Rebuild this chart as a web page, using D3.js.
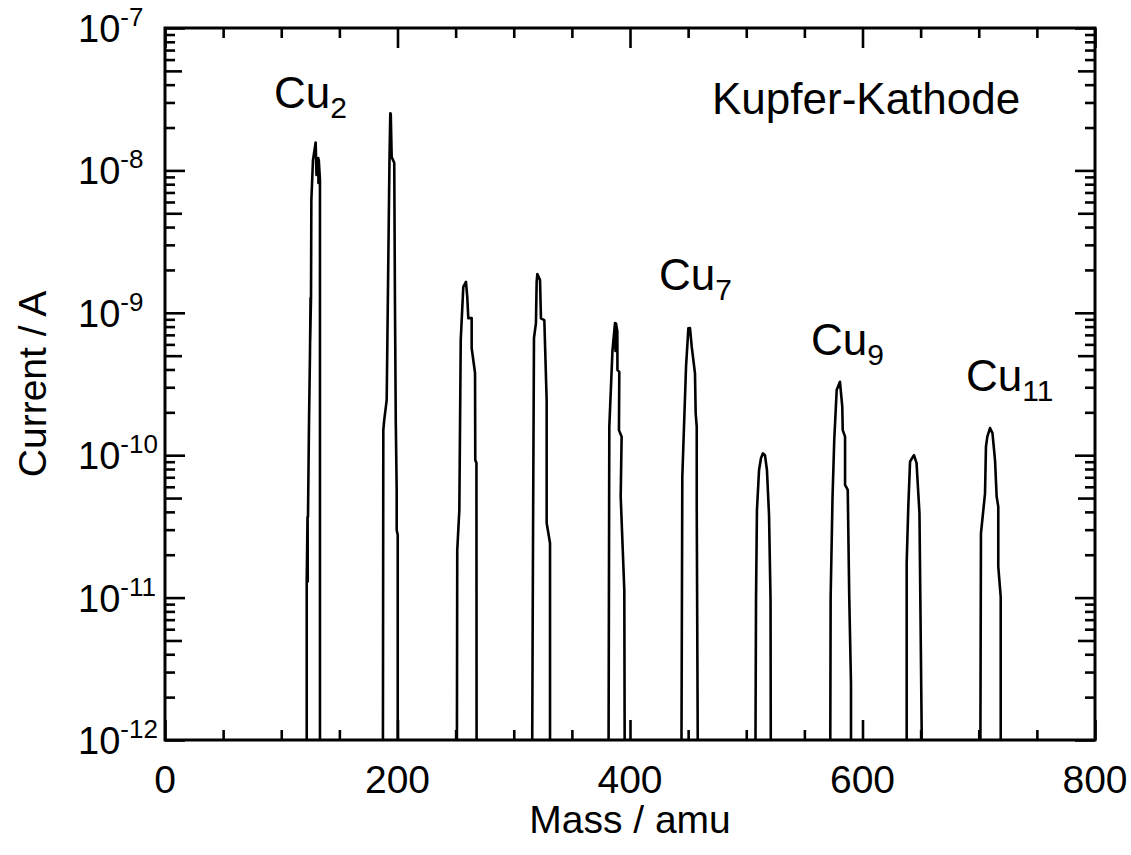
<!DOCTYPE html>
<html>
<head>
<meta charset="utf-8">
<script src="https://cdn.jsdelivr.net/npm/d3@7/dist/d3.min.js"></script>
<style>
  body { margin: 0; background: #fff; }
  text { font-family: Arial, "Liberation Sans", sans-serif; fill: #000; }
</style>
</head>
<body>
<script>
var width = 1131
var height = 855
var margin = { top: 28, right: 36, bottom: 115, left: 165 }

// mass spectrum (1e-13 = below the axis)
var mass = [
  121.9, 121.9, 122.6, 122.8, 122.7, 123.0, 123.9, 124.7, 125.2, 124.9, 125.6, 125.9, 127.3, 129.6, 130.3, 131.9, 132.0, 132.3, 133.3, 133.3,
  187.3, 187.8, 188.6, 190.7, 193.1, 193.8, 194.0, 194.2, 195.0, 197.2, 197.8, 198.5, 199.3, 199.3, 200.2, 200.2,
  250.9, 251.4, 253.2, 254.4, 256.6, 258.9, 260.0, 260.9, 263.8, 263.8, 266.7, 266.9, 267.9, 268.1,
  315.4, 316.6, 317.4, 319.1, 319.7, 320.3, 322.6, 323.4, 326.3, 328.3, 328.3, 331.2, 331.2,
  381.3, 382.2, 384.9, 387.1, 387.5, 388.0, 389.1, 389.2, 390.8, 390.5, 392.8, 392.0, 395.1, 395.7,
  443.9, 445.0, 448.2, 450.2, 451.6, 453.1, 455.9, 456.5, 457.4, 457.4, 458.8,
  507.5, 508.4, 509.2, 511.0, 512.7, 514.4, 516.1, 517.8, 519.6, 520.9, 521.3,
  572.0, 572.6, 574.2, 575.7, 577.8, 580.6, 582.6, 583.0, 585.0, 585.0, 587.3, 588.6, 590.1, 590.1,
  638.0, 638.0, 639.4, 640.9, 643.7, 644.3, 646.5, 649.0, 650.9, 650.9,
  701.1, 701.9, 705.4, 706.2, 707.4, 709.7, 711.8, 714.0, 715.4, 716.8, 716.8, 718.9, 718.9
]
var current = [
  1e-13, 1.27e-11, 3.68e-11, 1.3e-11, 3.68e-11, 3.68e-11, 1.77e-10, 5.06e-10, 1.27e-9, 6.44e-10, 1.27e-9, 6.19e-9, 1.18e-8, 1.57e-8, 9.3e-9, 1.22e-8, 8.17e-9, 1.18e-8, 8.57e-9, 1e-13,
  1e-13, 1.5e-10, 1.77e-10, 2.44e-10, 1.18e-8, 2.52e-8, 1.39e-8, 2.5e-8, 1.24e-8, 1.13e-8, 1.23e-9, 1.77e-10, 5.7e-11, 2.98e-11, 2.75e-11, 1e-13,
  1e-13, 2.16e-11, 4.12e-11, 6.44e-10, 1.52e-9, 1.65e-9, 1.3e-9, 9.18e-10, 9.18e-10, 5.66e-10, 3.78e-10, 9.25e-11, 8.81e-11, 1e-13,
  1e-13, 2.84e-11, 6.65e-10, 8.47e-10, 1.65e-9, 1.87e-9, 1.7e-9, 9.14e-10, 8.89e-10, 2.44e-10, 3.34e-11, 2.42e-11, 1e-13,
  1e-13, 1.58e-10, 5.4e-10, 8.47e-10, 5.4e-10, 8.4e-10, 7.36e-10, 3.96e-10, 3.85e-10, 1.5e-10, 1.35e-10, 5.12e-11, 1.13e-11, 1e-13,
  1e-13, 7.06e-11, 4.18e-10, 7.78e-10, 7.8e-10, 5.78e-10, 3.76e-10, 1.97e-10, 1.58e-10, 4.35e-11, 1e-13,
  1e-13, 9.6e-12, 4.12e-11, 7.87e-11, 9.55e-11, 1.03e-10, 1.0e-10, 7.87e-11, 3.8e-11, 9.6e-12, 1e-13,
  1e-13, 1.01e-11, 5.0e-11, 1.28e-10, 2.87e-10, 3.28e-10, 2.19e-10, 1.5e-10, 1.35e-10, 6.18e-11, 5.7e-11, 1.01e-11, 2.5e-12, 1e-13,
  1e-13, 1.75e-11, 4.35e-11, 9.0e-11, 9.86e-11, 1.0e-10, 8.8e-11, 3.92e-11, 1.17e-12, 1e-13,
  1e-13, 2.83e-11, 5.4e-11, 1.15e-10, 1.35e-10, 1.55e-10, 1.43e-10, 9.25e-11, 5.12e-11, 4.35e-11, 1.65e-11, 1.01e-11, 1e-13
]

var xTickLabels = [0, 200, 400, 600, 800]
var yTickExponents = [-7, -8, -9, -10, -11, -12]
var clusterLabels = [
  { base: 'Cu', sub: '2' },
  { base: 'Cu', sub: '7' },
  { base: 'Cu', sub: '9' },
  { base: 'Cu', sub: '11' }
]
var title = 'Kupfer-Kathode'

var data = mass.map((m, i) => ({ mass: m, current: current[i] }))

var x0 = margin.left, x1 = width - margin.right
var y0 = height - margin.bottom, y1 = margin.top

var xScale = d3.scaleLinear().domain([0, 800]).range([x0, x1])
var yScale = d3.scaleLog().domain([1e-12, 1e-7]).range([y0, y1])

var svg = d3.select('body').append('svg')
  .attr('width', width)
  .attr('height', height)

svg.append('clipPath').attr('id', 'plot')
  .append('rect')
  .attr('x', x0).attr('y', y1)
  .attr('width', x1 - x0).attr('height', y0 - y1)

var line = d3.line()
  .x(d => xScale(d.mass))
  .y(d => yScale(d.current))

svg.append('path')
  .attr('d', line(data))
  .attr('clip-path', 'url(#plot)')
  .attr('fill', 'none')
  .attr('stroke', '#000')
  .attr('stroke-width', 2.6)
  .attr('stroke-linejoin', 'round')

// ticks (all pointing inward, mirrored on every side)
var xMajor = d3.range(0, 801, 200)
var xMinor = d3.range(0, 801, 50).filter(v => v % 200 != 0)
var yMajor = yTickExponents.map(e => Math.pow(10, e))
var yMinor = [], yMid = []
for (var e = -12; e < -7; e++) {
  for (var k = 2; k <= 9; k++) {
    if (k == 5) yMid.push(k * Math.pow(10, e))
    else yMinor.push(k * Math.pow(10, e))
  }
}

function tickAxis(axis, values, size, transform) {
  var g = svg.append('g')
    .attr('transform', transform)
    .call(axis.tickValues(values).tickSizeInner(-size).tickSizeOuter(0).tickFormat(''))
  g.select('.domain').remove()
  g.selectAll('line').attr('stroke', '#000').attr('stroke-width', 2.6)
  return g
}

tickAxis(d3.axisBottom(xScale), xMajor, 20, 'translate(0,' + y0 + ')')
tickAxis(d3.axisBottom(xScale), xMinor, 10, 'translate(0,' + y0 + ')')
tickAxis(d3.axisTop(xScale), xMajor, 20, 'translate(0,' + y1 + ')')
tickAxis(d3.axisTop(xScale), xMinor, 10, 'translate(0,' + y1 + ')')
tickAxis(d3.axisLeft(yScale), yMajor, 20, 'translate(' + x0 + ',0)')
tickAxis(d3.axisLeft(yScale), yMid, 17, 'translate(' + x0 + ',0)')
tickAxis(d3.axisLeft(yScale), yMinor, 10, 'translate(' + x0 + ',0)')
tickAxis(d3.axisRight(yScale), yMajor, 20, 'translate(' + x1 + ',0)')
tickAxis(d3.axisRight(yScale), yMid, 17, 'translate(' + x1 + ',0)')
tickAxis(d3.axisRight(yScale), yMinor, 10, 'translate(' + x1 + ',0)')

svg.append('rect')
  .attr('x', x0).attr('y', y1)
  .attr('width', x1 - x0).attr('height', y0 - y1)
  .attr('fill', 'none')
  .attr('stroke', '#000')
  .attr('stroke-width', 3)

// tick labels
svg.selectAll('.xlab').data(xTickLabels).enter().append('text')
  .attr('x', d => xScale(d))
  .attr('y', y0 + 53)
  .attr('text-anchor', 'middle')
  .attr('font-size', 39)
  .text(d => d)

var ylab = svg.selectAll('.ylab').data(yTickExponents).enter().append('text')
  .attr('x', 78)
  .attr('y', d => yScale(Math.pow(10, d)) + 14)
  .attr('font-size', 38)
ylab.append('tspan').text('10')
ylab.append('tspan').attr('font-size', 26).attr('dy', -16).text(d => '-' + Math.abs(d))

// axis titles
svg.append('text')
  .attr('x', (x0 + x1) / 2)
  .attr('y', 833)
  .attr('text-anchor', 'middle')
  .attr('font-size', 39)
  .text('Mass / amu')

svg.append('text')
  .attr('transform', 'translate(46,' + ((y0 + y1) / 2) + ') rotate(-90)')
  .attr('text-anchor', 'middle')
  .attr('font-size', 39)
  .text('Current / A')

// annotations
var labelPos = [[274, 108], [659, 290], [811, 355], [966, 391]]
clusterLabels.forEach((c, i) => {
  var t = svg.append('text')
    .attr('x', labelPos[i][0])
    .attr('y', labelPos[i][1])
    .attr('font-size', 44)
  t.append('tspan').text(c.base)
  t.append('tspan').attr('font-size', 30).attr('dy', 10).text(c.sub)
})

svg.append('text')
  .attr('x', 712)
  .attr('y', 114)
  .attr('font-size', 44)
  .text(title)
</script>
</body>
</html>
